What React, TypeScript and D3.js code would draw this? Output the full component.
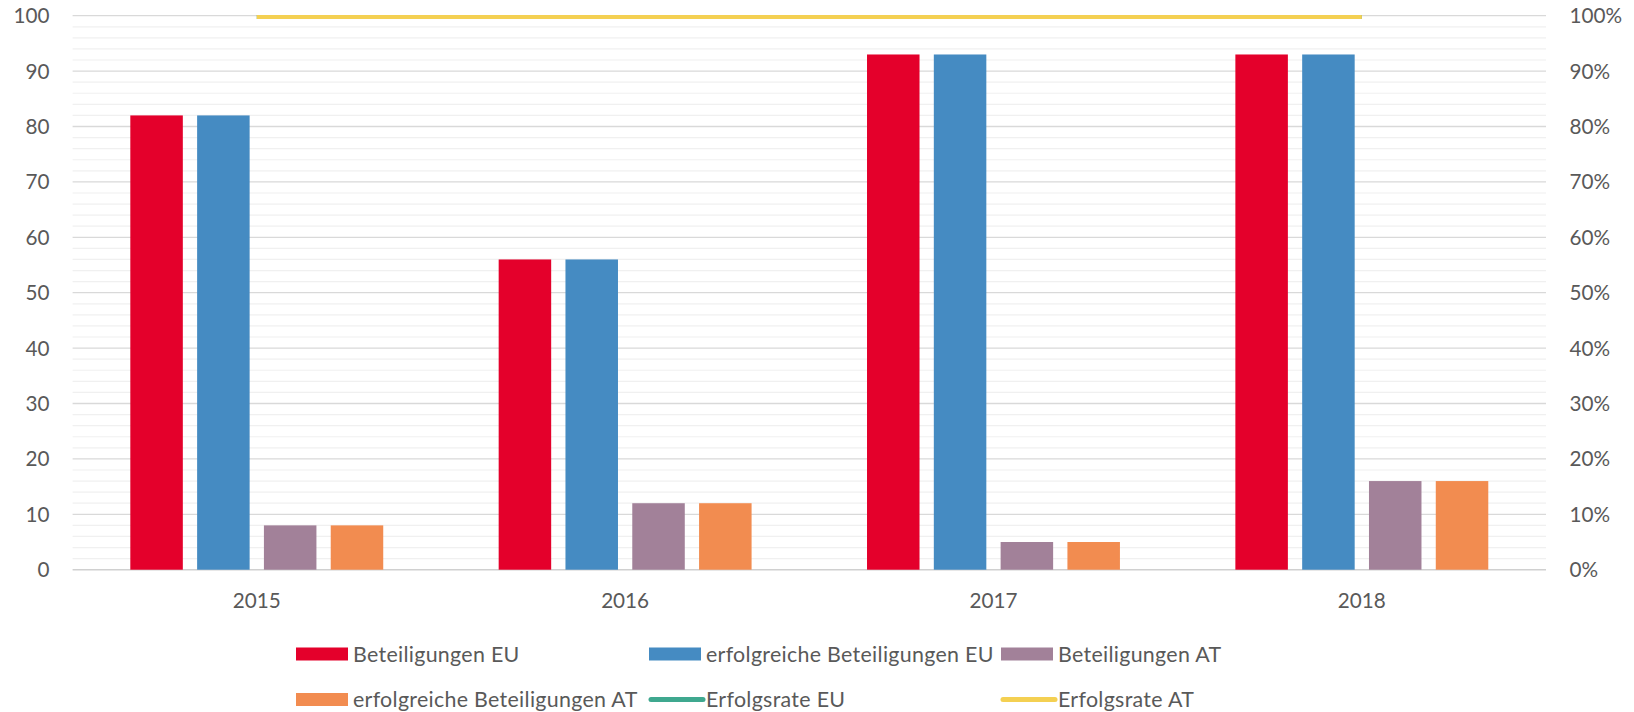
import React, { useRef, useEffect } from 'react';
import * as d3 from 'd3';

const years = ['2015', '2016', '2017', '2018'];
const barSeries = ['Beteiligungen EU', 'erfolgreiche Beteiligungen EU', 'Beteiligungen AT', 'erfolgreiche Beteiligungen AT'];
const beteiligungenEU = [82, 56, 93, 93];
const erfolgreichEU = [82, 56, 93, 93];
const beteiligungenAT = [8, 12, 5, 16];
const erfolgreichAT = [8, 12, 5, 16];
const erfolgsrateEU = [1, 1, 1, 1];
const erfolgsrateAT = [1, 1, 1, 1];
const leftTicks = [0, 10, 20, 30, 40, 50, 60, 70, 80, 90, 100];
const rightTicks = [0, 0.1, 0.2, 0.3, 0.4, 0.5, 0.6, 0.7, 0.8, 0.9, 1];

const barColors = ['#E4002B', '#458BC2', '#A28199', '#F28C50'];
const lineColors = ['#3FA88F', '#F4D052'];

const W = 1634;
const H = 712;
const FONT = 'Lato, "Open Sans", sans-serif';
const TEXT = '#595959';

export default function App() {
  const svgRef = useRef<SVGSVGElement>(null);

  useEffect(() => {
    if (!svgRef.current) return;
    const svg = d3.select(svgRef.current);
    svg.selectAll('*').remove();

    const left = 72.6;
    const right = 1546;
    const top = 15.7;
    const bottom = 569.7;

    const x0 = d3.scaleBand<string>().domain(years).range([left, right]).padding(0);
    const x1 = d3.scaleBand<string>()
      .domain(barSeries)
      .range([0, x0.bandwidth()])
      .paddingInner(0.214)
      .paddingOuter(0.864);
    const y = d3.scaleLinear().domain([0, 100]).range([bottom, top]);
    const yr = d3.scaleLinear().domain([0, 1]).range([bottom, top]);

    // gitternetz
    const g = svg.append('g');
    g.selectAll('line.minor')
      .data(d3.range(0, 101, 2).filter(v => v % 10 !== 0))
      .enter().append('line')
      .attr('x1', left).attr('x2', right)
      .attr('y1', d => y(d)).attr('y2', d => y(d))
      .attr('stroke', '#F0F0F0').attr('stroke-width', 1.2);
    g.selectAll('line.major')
      .data(leftTicks.filter(v => v > 0))
      .enter().append('line')
      .attr('x1', left).attr('x2', right)
      .attr('y1', d => y(d)).attr('y2', d => y(d))
      .attr('stroke', '#D9D9D9').attr('stroke-width', 1.3);
    g.append('line')
      .attr('x1', left).attr('x2', right)
      .attr('y1', y(0)).attr('y2', y(0))
      .attr('stroke', '#D0D0D0').attr('stroke-width', 1.5);

    // balken
    const seriesValues = [beteiligungenEU, erfolgreichEU, beteiligungenAT, erfolgreichAT];
    years.forEach((yr0, i) => {
      barSeries.forEach((s, j) => {
        const v = seriesValues[j][i];
        svg.append('rect')
          .attr('x', (x0(yr0) ?? 0) + (x1(s) ?? 0))
          .attr('y', y(v))
          .attr('width', x1.bandwidth())
          .attr('height', y(0) - y(v))
          .attr('fill', barColors[j]);
      });
    });

    // linien (erfolgsrate)
    const line = d3.line<number>()
      .x((_, i) => (x0(years[i]) ?? 0) + x0.bandwidth() / 2)
      .y(d => yr(d));
    [erfolgsrateEU, erfolgsrateAT].forEach((data, k) => {
      svg.append('path')
        .attr('d', line(data) ?? '')
        .attr('transform', 'translate(0,1.3)')
        .attr('fill', 'none')
        .attr('stroke', lineColors[k])
        .attr('stroke-width', 4);
    });

    // achsenbeschriftung
    const axisText = svg.append('g')
      .attr('font-family', FONT)
      .attr('font-size', 20.7)
      .attr('fill', TEXT);
    axisText.selectAll('text.yl')
      .data(leftTicks)
      .enter().append('text')
      .attr('x', 49.5).attr('y', d => y(d)).attr('dy', '0.36em')
      .attr('text-anchor', 'end')
      .text(d => String(d));
    axisText.selectAll('text.yr')
      .data(rightTicks)
      .enter().append('text')
      .attr('x', 1569.5).attr('y', d => yr(d)).attr('dy', '0.36em')
      .attr('text-anchor', 'start')
      .text(d => d3.format('.0%')(d));
    axisText.selectAll('text.xl')
      .data(years)
      .enter().append('text')
      .attr('x', d => (x0(d) ?? 0) + x0.bandwidth() / 2)
      .attr('y', 608.3)
      .attr('text-anchor', 'middle')
      .text(d => d);

    // legende
    const legendItems = [
      { label: barSeries[0], color: barColors[0], type: 'bar' },
      { label: barSeries[1], color: barColors[1], type: 'bar' },
      { label: barSeries[2], color: barColors[2], type: 'bar' },
      { label: barSeries[3], color: barColors[3], type: 'bar' },
      { label: 'Erfolgsrate EU', color: lineColors[0], type: 'line' },
      { label: 'Erfolgsrate AT', color: lineColors[1], type: 'line' },
    ];
    const colX = [296, 649, 1001];
    const rowY = [654, 699.5];
    legendItems.forEach((item, i) => {
      const cx = colX[i % 3];
      const cy = rowY[Math.floor(i / 3)];
      const lg = svg.append('g');
      if (item.type === 'bar') {
        lg.append('rect')
          .attr('x', cx).attr('y', cy - 6.5)
          .attr('width', 52).attr('height', 13)
          .attr('fill', item.color);
      } else {
        lg.append('line')
          .attr('x1', cx + 2).attr('x2', cx + 54)
          .attr('y1', cy).attr('y2', cy)
          .attr('stroke', item.color)
          .attr('stroke-width', 5)
          .attr('stroke-linecap', 'round');
      }
      lg.append('text')
        .attr('x', cx + 57).attr('y', cy).attr('dy', '0.36em')
        .attr('font-family', FONT)
        .attr('font-size', 21.4)
        .attr('letter-spacing', 0.3)
        .attr('fill', TEXT)
        .text(item.label);
    });
  }, []);

  return (
    <svg
      ref={svgRef}
      width={W}
      height={H}
      style={{ position: 'absolute', left: 0, top: 0, background: '#fff' }}
    />
  );
}
